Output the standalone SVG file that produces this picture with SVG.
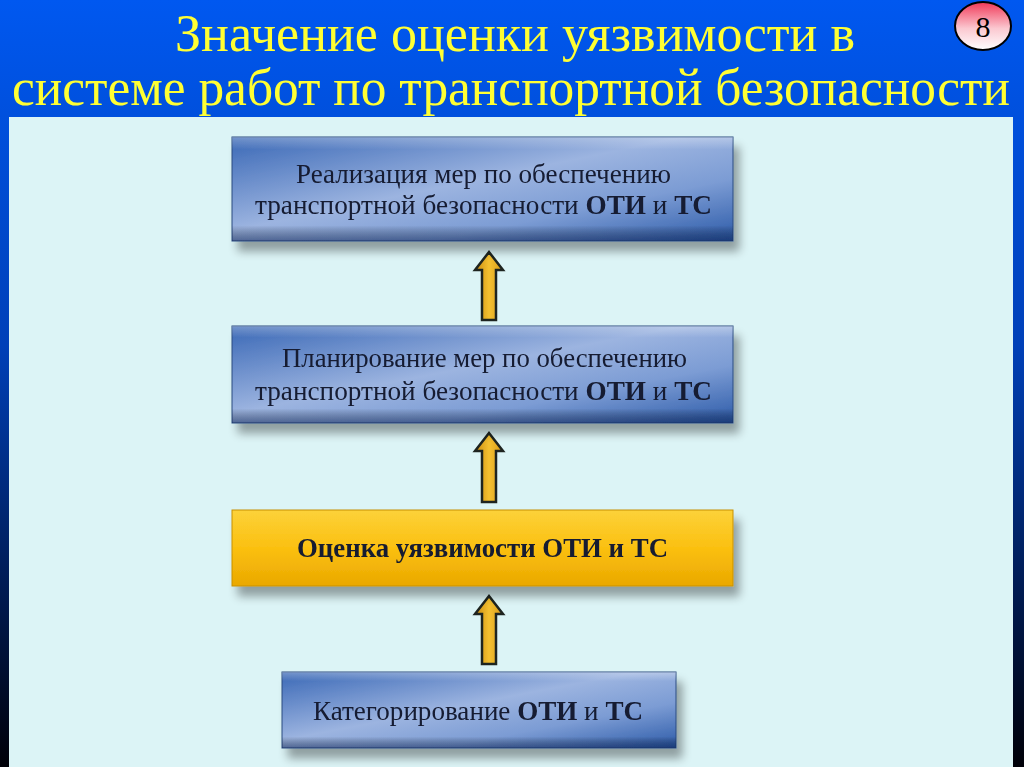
<svg xmlns="http://www.w3.org/2000/svg" width="1024" height="767" viewBox="0 0 1024 767">
<defs>
<linearGradient id="bg" x1="0" y1="0" x2="0" y2="1">
<stop offset="0" stop-color="#0058f0"/>
<stop offset="0.45" stop-color="#0040b8"/>
<stop offset="1" stop-color="#000008"/>
</linearGradient>
<linearGradient id="blueBox" x1="0" y1="0" x2="1" y2="1">
<stop offset="0" stop-color="#3a68b6"/>
<stop offset="0.45" stop-color="#9cb4e0"/>
<stop offset="0.7" stop-color="#7c9cd4"/>
<stop offset="1" stop-color="#2c5aa8"/>
</linearGradient>
<linearGradient id="blueEdge" x1="0" y1="0" x2="0" y2="1">
<stop offset="0" stop-color="#ffffff" stop-opacity="0.3"/>
<stop offset="0.12" stop-color="#ffffff" stop-opacity="0"/>
<stop offset="0.85" stop-color="#000000" stop-opacity="0"/>
<stop offset="1" stop-color="#0a1e50" stop-opacity="0.5"/>
</linearGradient>
<linearGradient id="yellowBox" x1="0" y1="0" x2="0" y2="1">
<stop offset="0" stop-color="#fcd23a"/>
<stop offset="0.5" stop-color="#fbc010"/>
<stop offset="1" stop-color="#eaa800"/>
</linearGradient>
<linearGradient id="badge" x1="0" y1="0" x2="0" y2="1">
<stop offset="0" stop-color="#f03858"/>
<stop offset="0.55" stop-color="#fbc8d0"/>
<stop offset="1" stop-color="#ffffff"/>
</linearGradient>
<linearGradient id="arrowFill" x1="0" y1="0" x2="1" y2="0">
<stop offset="0" stop-color="#c88a10"/>
<stop offset="0.5" stop-color="#f4c030"/>
<stop offset="1" stop-color="#d89a18"/>
</linearGradient>
<filter id="shadow" x="-10%" y="-20%" width="125%" height="160%">
<feGaussianBlur in="SourceAlpha" stdDeviation="5"/>
<feOffset dx="6" dy="10" result="b"/>
<feComponentTransfer><feFuncA type="linear" slope="0.35"/></feComponentTransfer>
<feMerge><feMergeNode/><feMergeNode in="SourceGraphic"/></feMerge>
</filter>
</defs>
<style>
.title{font-family:"Liberation Serif","Times New Roman",serif;fill:#ffff33;font-size:53px;}
.lbl{font-family:"Liberation Serif","Times New Roman",serif;fill:#141a30;font-size:27px;}
.b{font-weight:bold;}
.box{stroke:#2a4a80;stroke-width:1;}
.arrow{fill:url(#arrowFill);stroke:#1e2420;stroke-width:2.5;stroke-linejoin:miter;}
</style>
<rect x="0" y="0" width="1024" height="767" fill="url(#bg)"/>
<rect x="9" y="117" width="1004" height="650" fill="#dcf4f6"/>
<g id="title">
<text class="title" x="515" y="51" text-anchor="middle" textLength="680" lengthAdjust="spacingAndGlyphs">Значение оценки уязвимости в</text>
<text class="title" x="511" y="105" text-anchor="middle" textLength="998" lengthAdjust="spacingAndGlyphs">системе работ по транспортной безопасности</text>
</g>
<g id="badge8">
<ellipse cx="983" cy="26" rx="28" ry="24" fill="url(#badge)" stroke="#000" stroke-width="2"/>
<text x="983" y="37" text-anchor="middle" font-family="Liberation Serif, serif" font-size="30" fill="#000">8</text>
</g>
<g id="connectors">
<path class="arrow" d="M482,320 L482,270 L475,270 L489,252 L503,270 L496,270 L496,320 Z"/>
<path class="arrow" d="M482,502 L482,451 L475,451 L489,433 L503,451 L496,451 L496,502 Z"/>
<path class="arrow" d="M482,664 L482,614 L475,614 L489,596 L503,614 L496,614 L496,664 Z"/>
</g>
<g id="node-realization" filter="url(#shadow)">
<rect class="box" x="232" y="137" width="501" height="104" fill="url(#blueBox)"/>
<rect x="232" y="137" width="501" height="104" fill="url(#blueEdge)"/>
<text class="lbl" x="483.5" y="183" text-anchor="middle" textLength="375" lengthAdjust="spacingAndGlyphs">Реализация мер по обеспечению</text>
<text class="lbl" x="483.5" y="214" text-anchor="middle" textLength="457" lengthAdjust="spacingAndGlyphs">транспортной безопасности <tspan class="b">ОТИ</tspan> и <tspan class="b">ТС</tspan></text>
</g>
<g id="node-planning" filter="url(#shadow)">
<rect class="box" x="232" y="326" width="501" height="97" fill="url(#blueBox)"/>
<rect x="232" y="326" width="501" height="97" fill="url(#blueEdge)"/>
<text class="lbl" x="484.5" y="367" text-anchor="middle" textLength="405" lengthAdjust="spacingAndGlyphs">Планирование мер по обеспечению</text>
<text class="lbl" x="483.5" y="400" text-anchor="middle" textLength="457" lengthAdjust="spacingAndGlyphs">транспортной безопасности <tspan class="b">ОТИ</tspan> и <tspan class="b">ТС</tspan></text>
</g>
<g id="node-assessment" filter="url(#shadow)">
<rect x="232" y="510" width="501" height="76" fill="url(#yellowBox)" stroke="#c89000" stroke-width="1"/>
<text class="lbl b" x="482.5" y="557" text-anchor="middle" textLength="371" lengthAdjust="spacingAndGlyphs">Оценка уязвимости ОТИ и ТС</text>
</g>
<g id="node-categorization" filter="url(#shadow)">
<rect class="box" x="282" y="672" width="394" height="76" fill="url(#blueBox)"/>
<rect x="282" y="672" width="394" height="76" fill="url(#blueEdge)"/>
<text class="lbl" x="478" y="720" text-anchor="middle" textLength="330" lengthAdjust="spacingAndGlyphs">Категорирование <tspan class="b">ОТИ</tspan> и <tspan class="b">ТС</tspan></text>
</g>
</svg>
